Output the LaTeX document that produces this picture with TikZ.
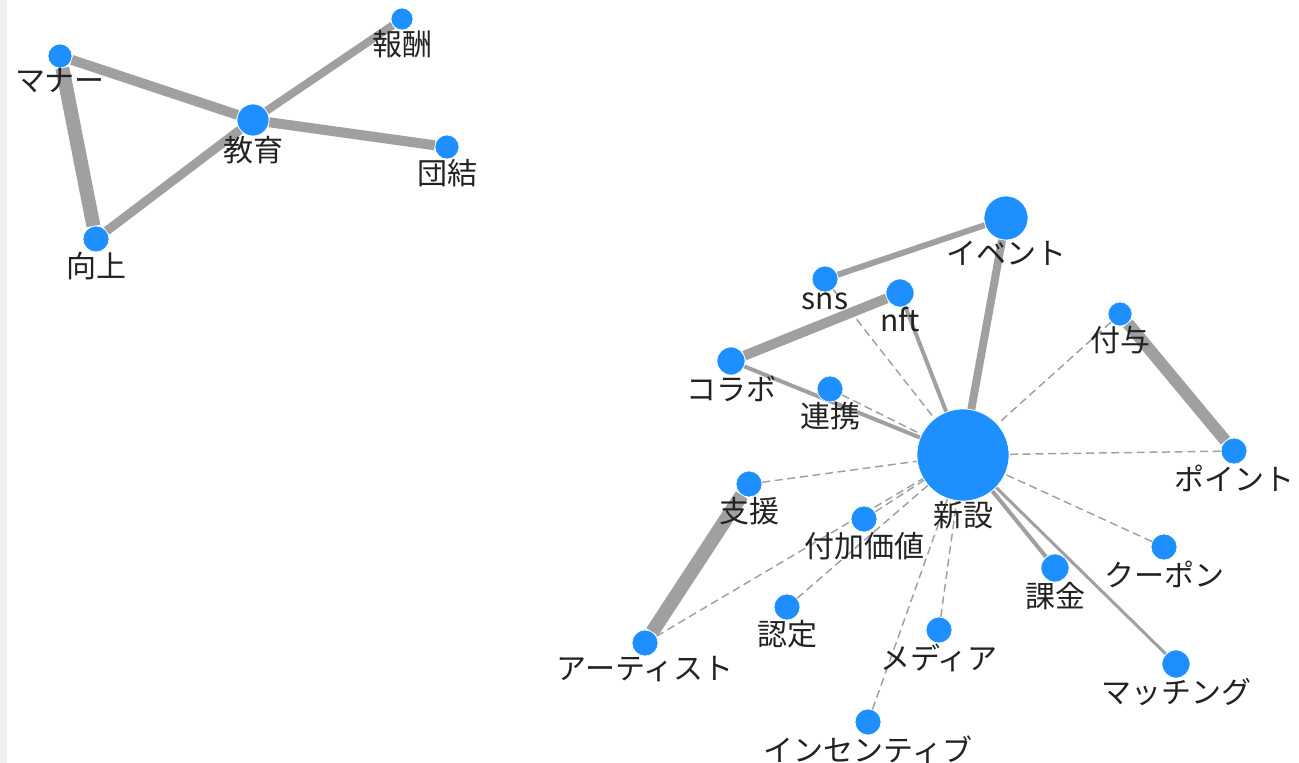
\documentclass[tikz,border=0pt]{standalone}
\usepackage{fontspec}
\newfontfamily\jp{Noto Sans CJK JP}
\usetikzlibrary{backgrounds}
\definecolor{nodeblue}{HTML}{1E8FFF}
\definecolor{edgegray}{HTML}{A0A0A0}
\definecolor{labelgray}{HTML}{222222}
\definecolor{stripgray}{HTML}{F1F1F1}

\tikzset{
  dot/.style={circle, fill=nodeblue, draw=white, line width=0.5pt, inner sep=0pt, minimum size={1.5pt*#1}, label distance=0pt},
  word/.style={font=\jp\fontsize{22.5}{22.5}\selectfont, text=labelgray, inner sep=0pt},
  tie/.style={draw=edgegray, line width={0.75pt*#1}},
  weak/.style={draw=edgegray, line width=1.1pt, dash pattern=on 6pt off 3.5pt},
}

\begin{document}
\begin{tikzpicture}[x=0.75pt,y=-0.75pt]
\useasboundingbox (0,0) rectangle (1299,763);
\fill[stripgray] (0,0) rectangle (7,763);

% left cluster
\node[dot=12, label={[word]below:マナー}]   (manner)   at (60,56)   {};
\node[dot=11, label={[word]below:報酬}]     (hoshu)    at (402,19)  {};
\node[dot=16, label={[word]below:教育}]     (kyoiku)   at (253,120) {};
\node[dot=12, label={[word]below:団結}]     (danketsu) at (447,147) {};
\node[dot=13, label={[word]below:向上}]     (kojo)     at (96,239)  {};

% right cluster
\node[dot=22, label={[word]below:イベント}]  (event)    at (1006,218) {};
\node[dot=13, label={[word]below:sns}]      (sns)      at (825,279)  {};
\node[dot=14, label={[word]below:nft}]      (nft)      at (900,293)  {};
\node[dot=14, label={[word]below:コラボ}]    (collab)   at (731,361)  {};
\node[dot=13, label={[word]below:連携}]      (renkei)   at (830,389)  {};
\node[dot=46, label={[word]below:新設}]      (shinsetsu) at (963,455) {};
\node[dot=12, label={[word]below:付与}]      (fuyo)     at (1120,314) {};
\node[dot=13, label={[word]below:ポイント}]   (point)    at (1234,451) {};
\node[dot=13, label={[word]below:支援}]      (shien)    at (749,484)  {};
\node[dot=13, label={[word]below:付加価値}]   (fukakachi) at (864,519) {};
\node[dot=13, label={[word]below:クーポン}]   (coupon)   at (1164,547) {};
\node[dot=14, label={[word]below:課金}]      (kakin)    at (1055,568) {};
\node[dot=13, label={[word]below:認定}]      (nintei)   at (787,607)  {};
\node[dot=13, label={[word]below:メディア}]   (media)    at (939,630)  {};
\node[dot=13, label={[word]below:アーティスト}] (artist)  at (645,643)  {};
\node[dot=14, label={[word]below:マッチング}]  (matching) at (1176,664) {};
\node[dot=13, label={[word]below:インセンティブ}] (incentive) at (868,722) {};

\begin{scope}[on background layer]
  \draw[tie=10] (manner) -- (kyoiku);
  \draw[tie=8]  (kyoiku) -- (hoshu);
  \draw[tie=10] (kyoiku) -- (danketsu);
  \draw[tie=9]  (kyoiku) -- (kojo);
  \draw[tie=14] (manner) -- (kojo);

  \draw[tie=6]  (event) -- (sns);
  \draw[tie=8]  (event) -- (shinsetsu);
  \draw[tie=10] (nft) -- (collab);
  \draw[tie=4]  (nft) -- (shinsetsu);
  \draw[tie=4]  (collab) -- (shinsetsu);
  \draw[tie=12] (fuyo) -- (point);
  \draw[tie=4]  (kakin) -- (shinsetsu);
  \draw[tie=3]  (matching) -- (shinsetsu);
  \draw[tie=14] (shien) -- (artist);
  \foreach \n in {sns,renkei,fuyo,point,coupon,shien,fukakachi,artist,nintei,media,incentive}
    \draw[weak] (\n) -- (shinsetsu);
\end{scope}
\end{tikzpicture}
\end{document}
